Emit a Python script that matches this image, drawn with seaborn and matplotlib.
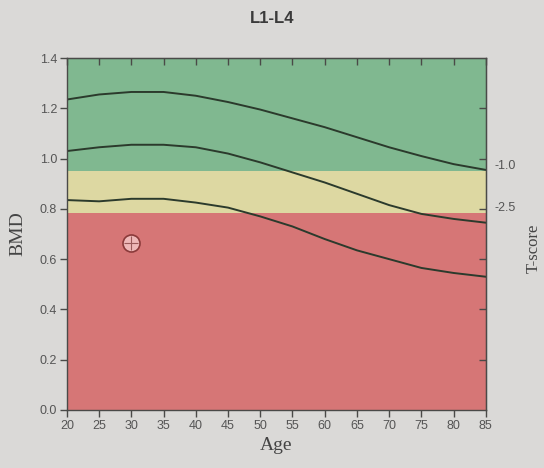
## BMD reference curves for L1-L4 with T-score bands and a single patient measurement.

import numpy as np
import pandas as pd
import matplotlib
matplotlib.use('Agg')
import matplotlib.pyplot as plt
import matplotlib.transforms as mtransforms
import seaborn as sns

# Reference curves
ages = [20, 25, 30, 35, 40, 45, 50, 55, 60, 65, 70, 75, 80, 85]
upper_curve = [1.235, 1.255, 1.265, 1.265, 1.25, 1.225, 1.195, 1.16, 1.125, 1.085, 1.045, 1.01, 0.978, 0.955]
mean_curve = [1.03, 1.045, 1.055, 1.055, 1.045, 1.02, 0.985, 0.945, 0.905, 0.86, 0.815, 0.78, 0.76, 0.745]
lower_curve = [0.835, 0.83, 0.84, 0.84, 0.825, 0.805, 0.77, 0.73, 0.68, 0.635, 0.6, 0.565, 0.545, 0.53]

# Band limits (BMD at T-score -1.0 and -2.5)
tscore_labels = ['-1.0', '-2.5']
tscore_bmd = [0.95, 0.785]

# Patient point
patient_age = [30]
patient_bmd = [0.663]

x_ticks = list(range(20, 90, 5))
y_ticks = [0.0, 0.2, 0.4, 0.6, 0.8, 1.0, 1.2, 1.4]

df = pd.DataFrame({'Age': ages * 3,
                   'BMD': upper_curve + mean_curve + lower_curve,
                   'curve': ['upper'] * len(ages) + ['mean'] * len(ages) + ['lower'] * len(ages)})

sns.set_style('ticks')
plt.rcParams['font.family'] = ['Liberation Sans', 'DejaVu Sans']

fig = plt.figure(figsize=(5.44, 4.68), dpi=100, facecolor='#dad9d7')
ax = fig.add_axes([0.123, 0.124, 0.770, 0.752])
ax.set_facecolor('#dad9d7')

green = '#80b890'
yellow = '#ddd8a2'
red = '#d67676'
ax.axhspan(tscore_bmd[0], 1.4, color=green, lw=0, zorder=0)
ax.axhspan(tscore_bmd[1], tscore_bmd[0], color=yellow, lw=0, zorder=0)
ax.axhspan(0.0, tscore_bmd[1], color=red, lw=0, zorder=0)

sns.lineplot(data=df, x='Age', y='BMD', units='curve', estimator=None,
             color='#2b3a2c', linewidth=1.4, ax=ax, legend=False)

ax.scatter(patient_age, patient_bmd, s=150, facecolor='#eeb8b8', edgecolor='#8a3a3a',
           linewidth=1.2, zorder=5)
ax.scatter(patient_age, patient_bmd, s=110, marker='+', color='#9a5a5a', linewidth=0.8, zorder=6)

ax.set_xlim(20, 85)
ax.set_ylim(0, 1.4)
ax.set_xticks(x_ticks)
ax.set_yticks(y_ticks)
ax.set_yticklabels([f'{v:.1f}' for v in y_ticks])

spine_col = '#4a4a48'
for s in ax.spines.values():
    s.set_visible(True)
    s.set_color(spine_col)
    s.set_linewidth(1.0)

ax.tick_params(axis='both', direction='out', length=5, width=1, color=spine_col,
               labelsize=9, labelcolor='#555555', pad=2)

top = ax.secondary_xaxis('top')
top.set_xticks(x_ticks)
top.tick_params(direction='in', length=5, width=1, color=spine_col, labeltop=False)
right = ax.secondary_yaxis('right')
right.set_yticks(y_ticks[1:-1])
right.tick_params(direction='in', length=5, width=1, color=spine_col, labelright=False)

trans = mtransforms.blended_transform_factory(ax.transAxes, ax.transData)
for lab, val in zip(tscore_labels, tscore_bmd):
    ax.text(1.02, val + 0.02, lab, transform=trans, ha='left', va='center',
            fontsize=9, color='#555555')

serif = ['Liberation Serif', 'DejaVu Serif']
ax.set_xlabel('Age', family=serif, fontsize=14, color='#444444', labelpad=4)
ax.set_ylabel('BMD', family=serif, fontsize=14, color='#444444', labelpad=10)
fig.text(0.982, 0.47, 'T-score', family=serif, fontsize=12, color='#444444',
         rotation=90, ha='center', va='center')
fig.text(0.5, 0.96, 'L1-L4', fontsize=12, fontweight='bold', color='#3a3a3a',
         ha='center', va='center')

fig.savefig('out.png', dpi=100, facecolor=fig.get_facecolor())
